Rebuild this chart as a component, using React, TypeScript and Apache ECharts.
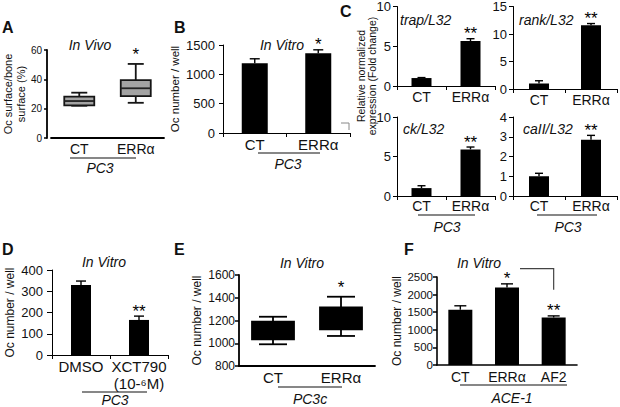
import React, { useEffect, useRef } from 'react';
import * as echarts from 'echarts';

const FONT = '"Liberation Sans", Arial, Helvetica, sans-serif';

// ---------- Data ----------
// Panel A (In Vivo, PC3) box plots: [min, Q1, median, Q3, max]
const catsA = ['CT', 'ERRα'];
const boxA = [
  [22, 22.2, 25.2, 28.2, 30.9],
  [24, 28.6, 33.9, 39.5, 50.5],
];
const starsA = ['', '*'];

// Panel B (In Vitro, PC3)
const catsB = ['CT', 'ERRα'];
const barB = [1190, 1360];
const errB = [75, 58];
const starsB = ['', '*'];

// Panel C (qPCR, PC3)
const catsC = ['CT', 'ERRα'];
const trapVals = [1.0, 5.65];
const trapErr = [0.06, 0.3];
const rankVals = [1.0, 11.6];
const rankErr = [0.5, 0.3];
const ckVals = [1.0, 5.9];
const ckErr = [0.3, 0.3];
const caIIVals = [1.0, 2.85];
const caIIErr = [0.15, 0.22];
const starsC = ['', '**'];

// Panel D (In Vitro, PC3)
const catsD = ['DMSO', 'XCT790\n(10-⁶M)'];
const barD = [329, 165];
const errD = [19, 18];
const starsD = ['', '**'];

// Panel E (In Vitro, PC3c) box plots
const catsE = ['CT', 'ERRα'];
const boxE = [
  [991, 1035, 1110, 1189, 1233],
  [1064, 1123, 1220, 1316, 1409],
];
const starsE = ['', '*'];

// Panel F (In Vitro, ACE-1)
const catsF = ['CT', 'ERRα', 'AF2'];
const barF = [1570, 2200, 1350];
const errF = [112, 105, 45];
const starsF = ['', '*', '**'];
// bracket ERRα -> AF2: [fromIdx, toIdx, level, end]
const bracketF = [[1, 2, 2740, 2140]];

// ---------- Helpers ----------
const grids = [
  { left: 44, top: 50, width: 120, height: 88 }, // A
  { left: 223, top: 45, width: 127, height: 88 }, // B
  { left: 397, top: 5, width: 98, height: 81 }, // C trap
  { left: 513, top: 5, width: 104, height: 84 }, // C rank
  { left: 397, top: 117, width: 98, height: 79 }, // C ck
  { left: 513, top: 117, width: 104, height: 79 }, // C caII
  { left: 52, top: 270, width: 116, height: 85 }, // D
  { left: 239, top: 275, width: 136, height: 91 }, // E
  { left: 437, top: 277, width: 140, height: 88 }, // F
];

function xAx(gi: number, data: string[], fontSize: number, margin: number, lw: number, ticks: boolean, lh?: number) {
  return {
    gridIndex: gi,
    type: 'category',
    data,
    axisLine: { show: true, lineStyle: { color: '#000', width: lw } },
    axisTick: { show: ticks, length: 4, lineStyle: { color: '#000', width: 1 } },
    axisLabel: { interval: 0, fontSize, fontFamily: FONT, color: '#111', margin, lineHeight: lh || fontSize + 1 },
    splitLine: { show: false },
  };
}

function yAx(
  gi: number, min: number, max: number, interval: number, fontSize: number, margin: number,
  lw: number, tickLen: number, name?: string, nameGap?: number, nameSize?: number, offset?: number
) {
  return {
    gridIndex: gi,
    type: 'value',
    min, max, interval,
    offset: offset || 0,
    axisLine: { show: true, lineStyle: { color: '#000', width: lw } },
    axisTick: { show: true, length: tickLen, lineStyle: { color: '#000', width: lw > 1.2 ? 1.5 : 1 } },
    axisLabel: { fontSize, fontFamily: FONT, color: '#111', margin, formatter: (v: number) => String(v) },
    splitLine: { show: false },
    name: name || '',
    nameLocation: 'middle',
    nameRotate: 90,
    nameGap: nameGap || 20,
    nameTextStyle: { fontSize: nameSize || 11, fontFamily: FONT, color: '#111', lineHeight: (nameSize || 11) + 2 },
  };
}

function barSeries(gi: number, vals: number[], width: number) {
  return {
    type: 'bar', xAxisIndex: gi, yAxisIndex: gi, data: vals, barWidth: width,
    itemStyle: { color: '#000' }, silent: true, z: 2,
  };
}

function errSeries(gi: number, vals: number[], errs: number[], stars: string[], capHalf: number) {
  return {
    type: 'custom', xAxisIndex: gi, yAxisIndex: gi, z: 3, silent: true,
    encode: { x: 0, y: 1 },
    data: vals.map((v, i) => [i, v, errs[i]]),
    renderItem: (params: any, api: any) => {
      const i = api.value(0), v = api.value(1), e = api.value(2);
      const base = api.coord([i, v]);
      const top = api.coord([i, v + e]);
      const children: any[] = [
        { type: 'line', shape: { x1: base[0], y1: base[1], x2: base[0], y2: top[1] }, style: { stroke: '#000', lineWidth: 1.4 } },
        { type: 'line', shape: { x1: base[0] - capHalf, y1: top[1], x2: base[0] + capHalf, y2: top[1] }, style: { stroke: '#000', lineWidth: 1.4 } },
      ];
      const s = stars[params.dataIndex];
      if (s) {
        children.push({
          type: 'text', x: base[0], y: top[1] - 5,
          style: { text: s, fontSize: 17, fontFamily: FONT, fill: '#000', align: 'center', verticalAlign: 'middle' },
        });
      }
      return { type: 'group', children };
    },
  };
}

function boxSeries(gi: number, boxes: number[][], stars: string[], boxW: number, capHalf: number,
  fill: string, stroke: string, median: string, lw: number) {
  return {
    type: 'custom', xAxisIndex: gi, yAxisIndex: gi, z: 3, silent: true,
    encode: { x: 0, y: [1, 2, 3, 4, 5] },
    data: boxes.map((b, i) => [i, ...b]),
    renderItem: (params: any, api: any) => {
      const i = api.value(0);
      const pMin = api.coord([i, api.value(1)]);
      const pQ1 = api.coord([i, api.value(2)]);
      const pMed = api.coord([i, api.value(3)]);
      const pQ3 = api.coord([i, api.value(4)]);
      const pMax = api.coord([i, api.value(5)]);
      const cx = pQ1[0];
      const children: any[] = [
        { type: 'line', shape: { x1: cx, y1: pQ3[1], x2: cx, y2: pMax[1] }, style: { stroke, lineWidth: lw } },
        { type: 'line', shape: { x1: cx, y1: pQ1[1], x2: cx, y2: pMin[1] }, style: { stroke, lineWidth: lw } },
        { type: 'line', shape: { x1: cx - capHalf, y1: pMax[1], x2: cx + capHalf, y2: pMax[1] }, style: { stroke, lineWidth: lw } },
        { type: 'line', shape: { x1: cx - capHalf, y1: pMin[1], x2: cx + capHalf, y2: pMin[1] }, style: { stroke, lineWidth: lw } },
        { type: 'rect', shape: { x: cx - boxW / 2, y: pQ3[1], width: boxW, height: pQ1[1] - pQ3[1] }, style: { fill, stroke, lineWidth: lw } },
        { type: 'line', shape: { x1: cx - boxW / 2, y1: pMed[1], x2: cx + boxW / 2, y2: pMed[1] }, style: { stroke: median, lineWidth: lw } },
      ];
      const s = stars[params.dataIndex];
      if (s) {
        children.push({
          type: 'text', x: cx, y: pMax[1] - 9,
          style: { text: s, fontSize: 17, fontFamily: FONT, fill: '#000', align: 'center', verticalAlign: 'middle' },
        });
      }
      return { type: 'group', children };
    },
  };
}

function bracketSeries(gi: number, data: number[][]) {
  return {
    type: 'custom', xAxisIndex: gi, yAxisIndex: gi, z: 3, silent: true,
    encode: { x: [0, 1], y: [2, 3] },
    data,
    renderItem: (params: any, api: any) => {
      const p1 = api.coord([api.value(0), api.value(2)]);
      const p2 = api.coord([api.value(1), api.value(2)]);
      const p3 = api.coord([api.value(1), api.value(3)]);
      return {
        type: 'polyline',
        shape: { points: [[p1[0] + 13, p1[1]], [p2[0], p2[1]], [p3[0], p3[1]]] },
        style: { stroke: '#444', lineWidth: 1.2, fill: 'none' },
      };
    },
  };
}

function txt(text: string, x: number, y: number, size: number, opts: any = {}) {
  return {
    type: 'text', x, y, silent: true,
    rotation: opts.rotation || 0,
    style: {
      text, fontSize: size, fontFamily: FONT, fill: '#111',
      fontStyle: opts.italic ? 'italic' : 'normal',
      fontWeight: opts.bold ? 'bold' : 'normal',
      align: opts.align || 'center', verticalAlign: opts.va || 'middle',
      lineHeight: opts.lineHeight,
    },
  };
}

function hline(x1: number, x2: number, y: number) {
  return { type: 'line', silent: true, shape: { x1, y1: y, x2, y2: y }, style: { stroke: '#111', lineWidth: 1.1 } };
}

const graphics: any[] = [
  // panel letters
  txt('A', 2, 19, 16, { bold: true, align: 'left', va: 'top' }),
  txt('B', 174, 19, 16, { bold: true, align: 'left', va: 'top' }),
  txt('C', 340, 3, 16, { bold: true, align: 'left', va: 'top' }),
  txt('D', 2, 241, 16, { bold: true, align: 'left', va: 'top' }),
  txt('E', 174, 241, 16, { bold: true, align: 'left', va: 'top' }),
  txt('F', 404, 241, 16, { bold: true, align: 'left', va: 'top' }),
  // panel titles
  txt('In Vivo', 90, 45, 14, { italic: true }),
  txt('In Vitro', 282, 45, 14, { italic: true }),
  txt('In Vitro', 104, 262, 14, { italic: true }),
  txt('In Vitro', 302, 263, 14, { italic: true }),
  txt('In Vitro', 479, 263, 14, { italic: true }),
  txt('trap/L32', 400, 20, 14, { italic: true, align: 'left' }),
  txt('rank/L32', 519, 20, 14, { italic: true, align: 'left' }),
  txt('ck/L32', 403, 129, 14, { italic: true, align: 'left' }),
  txt('caII/L32', 523, 129, 14, { italic: true, align: 'left' }),
  // C y-axis title
  txt('Relative normalized\nexpression (Fold change)', 366, 76, 10.5, { rotation: Math.PI / 2, lineHeight: 11 }),
  { type: 'polyline', silent: true, shape: { points: [[341, 123], [349, 123], [349, 130]] }, style: { stroke: '#888', lineWidth: 1, fill: 'none' } },
  // group lines and labels
  hline(70, 136, 158), txt('PC3', 100, 168, 14, { italic: true }),
  hline(258, 320, 153), txt('PC3', 288, 164, 14, { italic: true }),
  hline(418, 475, 215), txt('PC3', 447, 227, 14, { italic: true }),
  hline(537, 597, 215), txt('PC3', 568, 227, 14, { italic: true }),
  hline(82, 147, 392), txt('PC3', 115, 400, 14, { italic: true }),
  hline(278, 342, 387), txt('PC3c', 310, 399, 14, { italic: true }),
  hline(460, 567, 385), txt('ACE-1', 512, 398, 14, { italic: true }),
];

const option: any = {
  animation: false,
  backgroundColor: '#fff',
  grid: grids.map((g) => ({ ...g, containLabel: false })),
  xAxis: [
    xAx(0, catsA, 14, 3, 1.8, false),
    xAx(1, catsB, 15, 3, 1, true),
    xAx(2, catsC, 14, 3, 1, true),
    xAx(3, catsC, 14, 3, 1, true),
    xAx(4, catsC, 14, 2, 1, true),
    xAx(5, catsC, 14, 2, 1, true),
    xAx(6, catsD, 15, 3, 1, true, 17),
    xAx(7, catsE, 15, 3, 1.8, false),
    xAx(8, catsF, 14, 4, 1.6, false),
  ],
  yAxis: [
    yAx(0, 0, 60, 20, 10, 5, 1.8, 3, 'Oc surface/bone\nsurface (%)', 15, 11, 4),
    yAx(1, 0, 1500, 500, 13, 8, 1, 4, 'Oc number / well', 33, 11.5),
    yAx(2, 0, 10, 5, 13, 6, 1, 4),
    yAx(3, 0, 15, 5, 13, 6, 1, 4),
    yAx(4, 0, 10, 5, 13, 6, 1, 4),
    yAx(5, 0, 4, 1, 13, 6, 1, 4),
    yAx(6, 0, 400, 100, 13, 9, 1, 5, 'Oc number / well', 35, 12),
    yAx(7, 800, 1600, 200, 12, 4, 1.8, 4, 'Oc number / well', 28, 12),
    yAx(8, 0, 2500, 500, 11.5, 4, 1.6, 4, 'Oc number / well', 24, 12),
  ],
  series: [
    boxSeries(0, boxA, starsA, 30, 8, '#a3a3a3', '#151515', '#222', 1.8),
    barSeries(1, barB, 26), errSeries(1, barB, errB, starsB, 5),
    barSeries(2, trapVals, 20), errSeries(2, trapVals, trapErr, starsC, 4),
    barSeries(3, rankVals, 20), errSeries(3, rankVals, rankErr, starsC, 4),
    barSeries(4, ckVals, 20), errSeries(4, ckVals, ckErr, starsC, 4),
    barSeries(5, caIIVals, 20), errSeries(5, caIIVals, caIIErr, starsC, 4),
    barSeries(6, barD, 20), errSeries(6, barD, errD, starsD, 5),
    boxSeries(7, boxE, starsE, 42, 14, '#000', '#000', '#000', 1.8),
    barSeries(8, barF, 24), errSeries(8, barF, errF, starsF, 6),
    bracketSeries(8, bracketF),
  ],
  graphic: graphics,
};

export default function App() {
  const ref = useRef<HTMLDivElement>(null);
  useEffect(() => {
    const chart = echarts.init(ref.current!, null, { renderer: 'svg' });
    chart.setOption(option);
    return () => chart.dispose();
  }, []);
  return <div ref={ref} style={{ position: 'fixed', left: 0, top: 0, width: 620, height: 407 }} />;
}
